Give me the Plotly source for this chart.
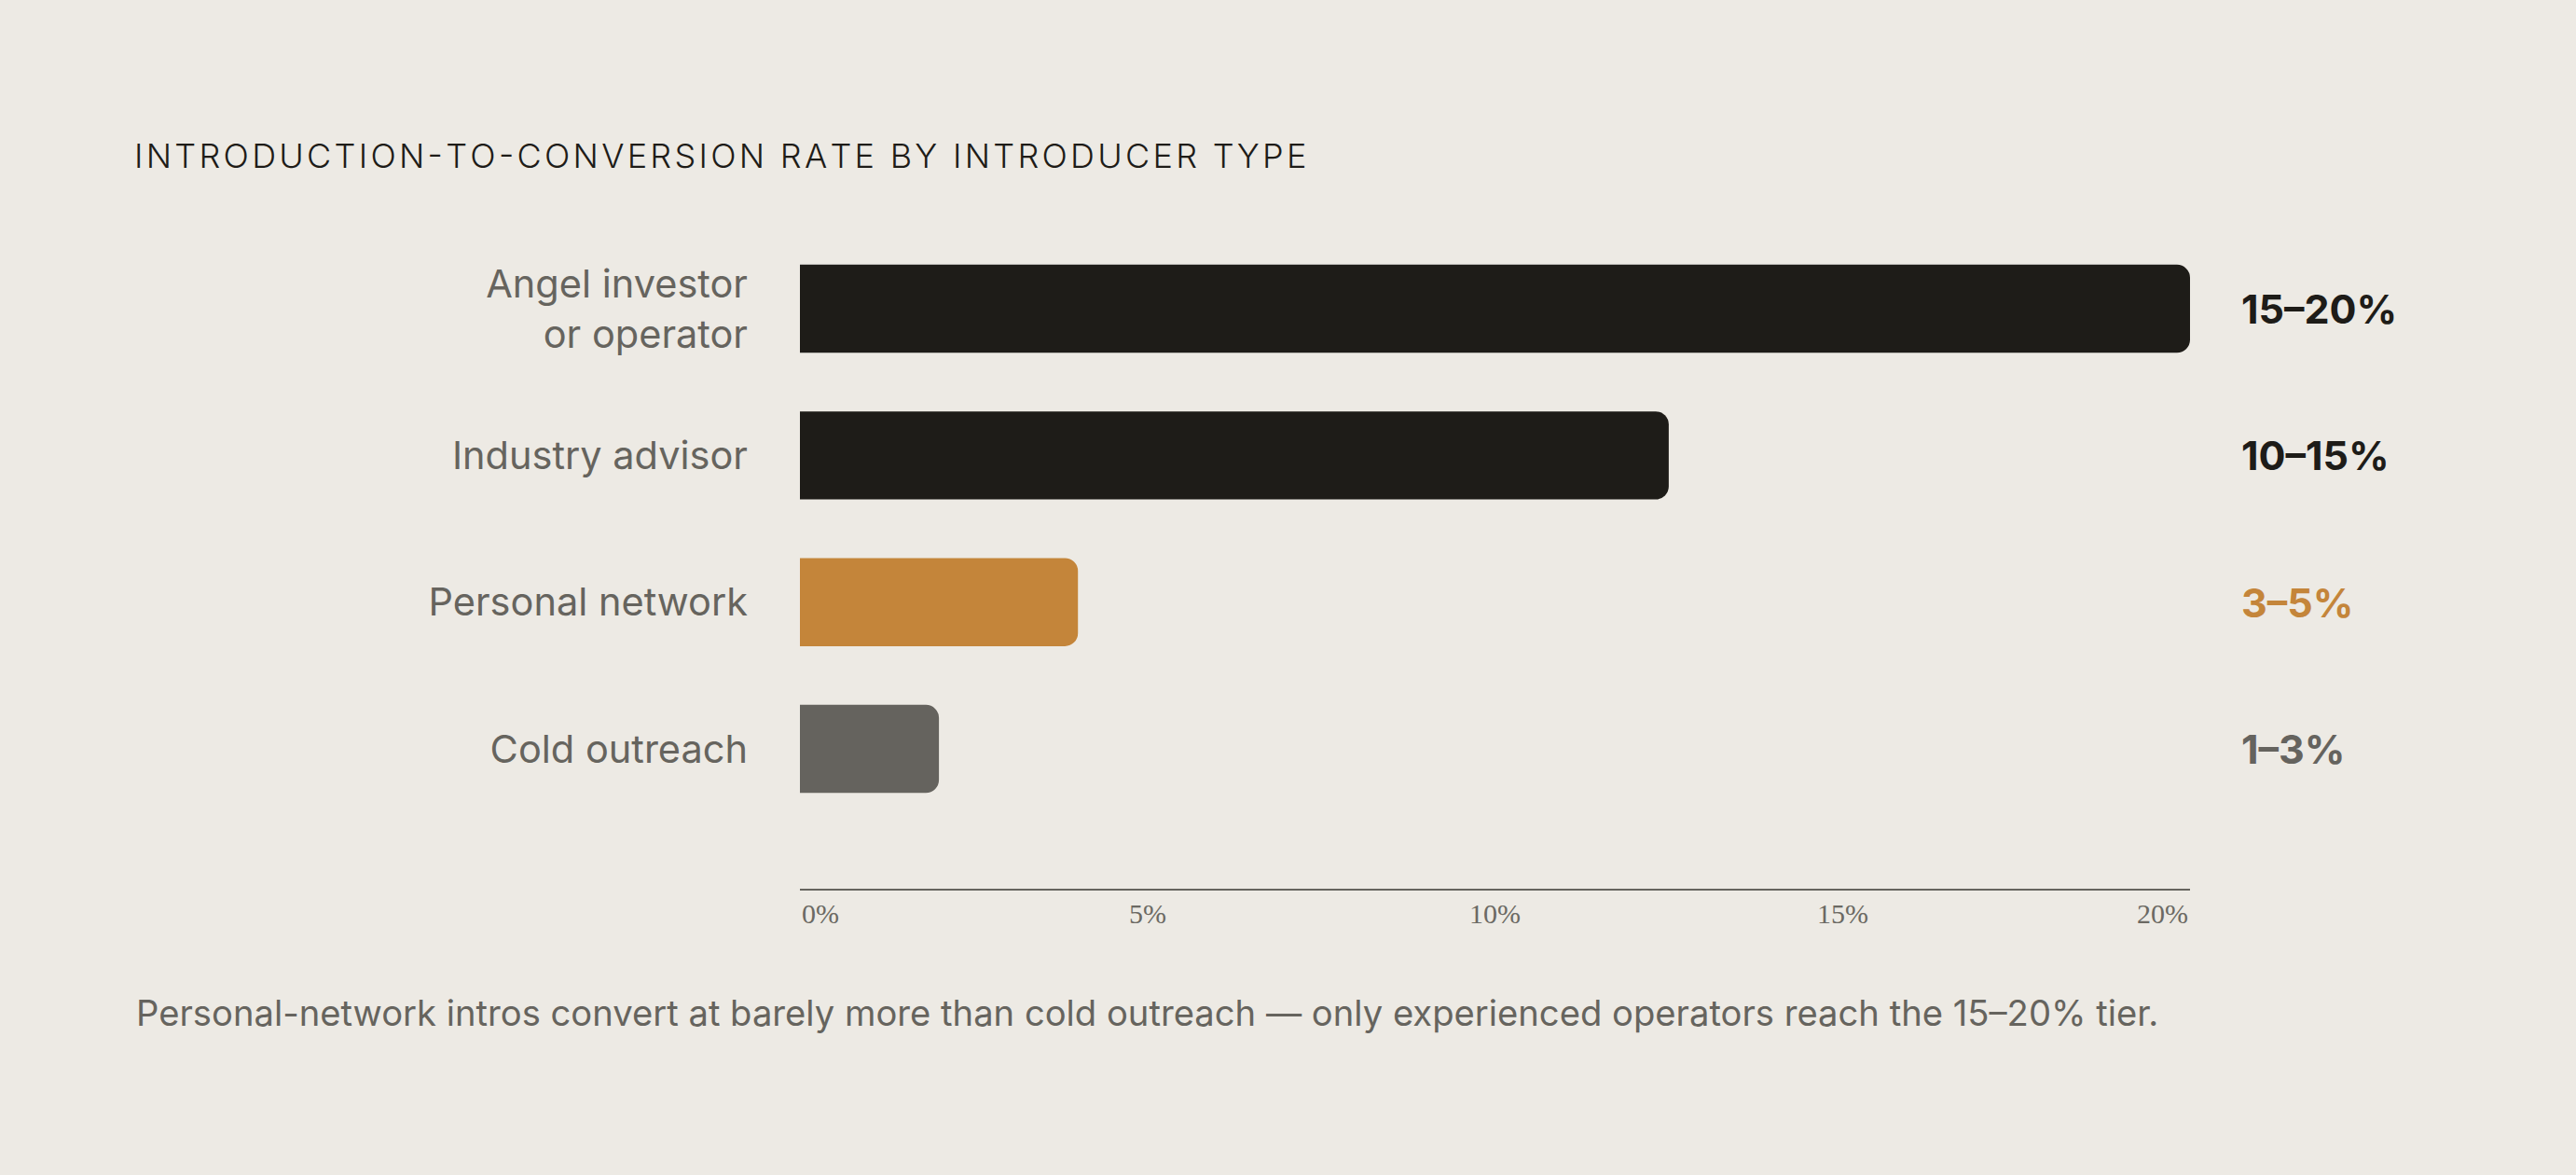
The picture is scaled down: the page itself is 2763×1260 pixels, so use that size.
import plotly.graph_objects as go

# ---- data ----
categories = ["Angel investor<br>or operator", "Industry advisor", "Personal network", "Cold outreach"]
values = [20, 12.5, 4, 2]
range_labels = ["15–20%", "10–15%", "3–5%", "1–3%"]
bar_colors = ["#1E1C18", "#1E1C18", "#C4853A", "#65635E"]
label_colors = ["#1E1C18", "#1E1C18", "#C4853A", "#65635E"]
tick_vals = [0, 5, 10, 15, 20]
tick_text = ["0%", "5%", "10%", "15%", "20%"]

title_text = "INTRODUCTION-TO-CONVERSION RATE BY INTRODUCER TYPE"
footnote = ("Personal-network intros convert at barely more than cold outreach \u2014 "
            "only experienced operators reach the 15\u201320% tier.")

W, H = 2763, 1260
ML, MR, MT, MB = 858, 414, 250, 307
BG = "#EDEAE4"
SANS = "Inter, Lato, 'Noto Sans', sans-serif"


def tracked(s, sp="\u200a"):
    return sp.join(list(s))


fig = go.Figure()
fig.add_trace(go.Bar(
    x=values, y=categories, orientation="h",
    width=0.6,
    marker=dict(color=bar_colors, line=dict(width=0), cornerradius=14),
    hoverinfo="skip",
))

plot_w = W - ML - MR
plot_h = H - MT - MB

# value range labels to the right of the plot
for cat, txt, col in zip(categories, range_labels, label_colors):
    fig.add_annotation(x=1, xref="paper", y=cat, yref="y", xanchor="left", xshift=53,
                       text=txt, showarrow=False,
                       font=dict(family=SANS, size=43, color=col, weight=700))

# tick labels along x axis
for v, t in zip(tick_vals, tick_text):
    anchor = "left" if v == tick_vals[0] else ("right" if v == tick_vals[-1] else "center")
    fig.add_annotation(x=v, xref="x", y=0, yref="paper", yanchor="middle", yshift=-26,
                       xanchor=anchor, text=t, showarrow=False,
                       font=dict(family="'Liberation Serif', serif", size=30, color="#6B6963"))

# footnote
fig.add_annotation(x=(144 - ML) / plot_w, xref="paper", y=-(1086 - (H - MB)) / plot_h, yref="paper",
                   xanchor="left", yanchor="middle", text=footnote, showarrow=False,
                   font=dict(family=SANS, size=38.2, color="#66645E"))

fig.update_layout(
    width=W, height=H,
    paper_bgcolor=BG, plot_bgcolor=BG,
    margin=dict(l=ML, r=MR, t=MT, b=MB, pad=0),
    showlegend=False,
    bargap=0.4,
    title=dict(text=tracked(title_text), x=144 / W, xanchor="left", xref="container",
               y=1 - 167 / H, yanchor="middle", yref="container",
               font=dict(family=SANS, size=36, color="#1E1C18", weight=300)),
    xaxis=dict(range=[0, 20], showgrid=False, zeroline=False, showticklabels=False,
               showline=True, linecolor="#66645E", linewidth=2, ticks="", fixedrange=True),
    yaxis=dict(autorange=False, range=[3.953, -0.515], showgrid=False, zeroline=False,
               showline=False, ticks="", ticklabelstandoff=55,
               tickfont=dict(family=SANS, size=41.5, color="#66645E"), fixedrange=True),
)

fig.write_html("out.html",
               config={"displayModeBar": False},
               post_script="document.body.style.margin='0';"
                           "document.body.style.background='" + BG + "';")
